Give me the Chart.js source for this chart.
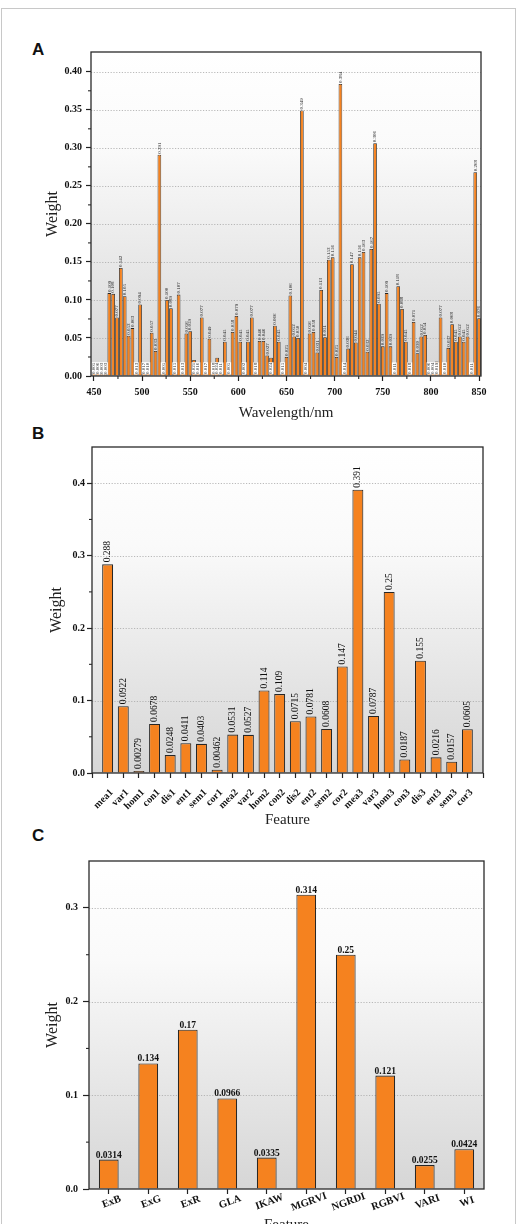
<!DOCTYPE html>
<html><head><meta charset="utf-8">
<script src="https://cdn.jsdelivr.net/npm/chart.js@4.4.1/dist/chart.umd.min.js"></script>
<style>
html,body{margin:0;padding:0;background:#fff;overflow:hidden;}
#page{position:relative;width:522px;height:1224px;overflow:hidden;}
#frame{position:absolute;left:1px;top:8px;width:515px;height:1240px;border:1px solid #c8c8c8;box-sizing:border-box;}
.panel{position:absolute;left:0;width:522px;}
.letter{position:absolute;left:32px;font:bold 17px "Liberation Sans",Arial,sans-serif;color:#111;line-height:18px;}
</style></head><body>
<div id="page">
<div id="frame"></div>
<div class="letter" style="top:41px">A</div>
<div class="letter" style="top:425px">B</div>
<div class="letter" style="top:827px">C</div>
<div class="panel" style="top:0;height:430px"><canvas id="cA"></canvas></div>
<div class="panel" style="top:425px;height:410px"><canvas id="cB"></canvas></div>
<div class="panel" style="top:835px;height:400px"><canvas id="cC"></canvas></div>
</div>
<script>
// ---------- DATA ----------
const wavelengthsNm = [450,454,458,462,466,470,474,478,482,486,490,494,498,502,506,510,514,518,522,526,530,534,538,542,546,550,554,558,562,566,570,574,578,582,586,590,594,598,602,606,610,614,618,622,626,630,634,638,642,646,650,654,658,662,666,670,674,678,682,686,690,694,698,702,706,710,714,718,722,726,730,734,738,742,746,750,754,758,762,766,770,774,778,782,786,790,794,798,802,806,810,814,818,822,826,830,834,838,842,846,850];
const weightsA = [0.005,0.006,0.003,0.003,0.109,0.108,0.077,0.142,0.105,0.053,
  0.063,0.013,0.094,0.017,0.010,0.057,0.033,0.291,0.005,0.100,
  0.089,0.015,0.107,0.013,0.056,0.059,0.021,0.016,0.077,0.017,
  0.049,0.018,0.024,0.011,0.045,0.005,0.058,0.079,0.045,0.002,
  0.045,0.077,0.018,0.046,0.046,0.027,0.024,0.066,0.045,0.015,
  0.025,0.106,0.052,0.050,0.349,0.004,0.056,0.058,0.031,0.113,
  0.051,0.153,0.156,0.025,0.384,0.014,0.036,0.147,0.044,0.156,
  0.163,0.032,0.167,0.306,0.095,0.039,0.109,0.039,0.011,0.118,
  0.088,0.045,0.018,0.071,0.030,0.052,0.054,0.006,0.004,0.019,
  0.077,0.010,0.037,0.068,0.045,0.052,0.045,0.052,0.011,0.268,
  0.076];
const featuresB = ['mea1','var1','hom1','con1','dis1','ent1','sem1','cor1','mea2','var2','hom2','con2','dis2','ent2','sem2','cor2','mea3','var3','hom3','con3','dis3','ent3','sem3','cor3'];
const weightsB = [0.288,0.0922,0.00279,0.0678,0.0248,0.0411,0.0403,0.00462,0.0531,0.0527,0.114,0.109,0.0715,0.0781,0.0608,0.147,0.391,0.0787,0.25,0.0187,0.155,0.0216,0.0157,0.0605];
const indicesC = ['ExB','ExG','ExR','GLA','IKAW','MGRVI','NGRDI','RGBVI','VARI','WI'];
const weightsC = [0.0314,0.134,0.17,0.0966,0.0335,0.314,0.25,0.121,0.0255,0.0424];

// ---------- STYLE ----------
const SERIF = '"Liberation Serif","Times New Roman",serif';
const BAR = '#F5821F';
const EDGE = '#262626';
Chart.defaults.font.family = SERIF;
Chart.defaults.color = '#111';
Chart.defaults.animation = false;

const deco = {
  id: 'deco',
  beforeDraw(chart) {
    const {ctx, chartArea: a} = chart;
    ctx.save();
    const g = ctx.createLinearGradient(0, a.top, 0, a.bottom);
    g.addColorStop(0, '#ffffff');
    g.addColorStop(0.3, '#fafafa');
    g.addColorStop(1, '#d6d6d6');
    ctx.fillStyle = g;
    ctx.fillRect(a.left, a.top, a.right - a.left, a.bottom - a.top);
    ctx.restore();
  },
  beforeDatasetsDraw(chart) {
    const {ctx, chartArea: a, scales: {y}} = chart;
    ctx.save();
    ctx.strokeStyle = '#a8a8a8'; ctx.lineWidth = 0.8; ctx.setLineDash([1.2, 1.6]);
    for (const t of y.ticks) {
      if (t.value <= 0) continue;
      const py = Math.round(y.getPixelForValue(t.value)) + 0.5;
      ctx.beginPath(); ctx.moveTo(a.left, py); ctx.lineTo(a.right, py); ctx.stroke();
    }
    ctx.restore();
  },
  afterDatasetsDraw(chart, args, opts) {
    const {ctx, chartArea: a, scales: {x, y}} = chart;
    const meta = chart.getDatasetMeta(0);
    const vals = chart.data.datasets[0].data;
    ctx.save();
    ctx.fillStyle = '#111';
    meta.data.forEach((el, i) => {
      const raw = vals[i];
      const v = (typeof raw === 'object') ? raw.y : raw;
      if (opts.mode === 'A') {
        const txt = v.toFixed(3);
        ctx.font = '5px ' + SERIF;
        const w = ctx.measureText(txt).width;
        ctx.save();
        if (v >= 0.025) {
          ctx.translate(el.x, el.y - 1);
          ctx.rotate(-Math.PI / 2);
          ctx.textAlign = 'left'; ctx.textBaseline = 'middle';
          ctx.fillStyle = '#222';
          ctx.fillText(txt, 0, 0);
        } else {
          ctx.translate(el.x, el.base - 1);
          ctx.rotate(-Math.PI / 2);
          ctx.fillStyle = '#ffffff';
          ctx.fillRect(0, -2.4, w + 1, 4.8);
          ctx.fillStyle = '#333';
          ctx.textAlign = 'left'; ctx.textBaseline = 'middle';
          ctx.fillText(txt, 0.5, 0);
        }
        ctx.restore();
      } else if (opts.mode === 'B') {
        const txt = String(v);
        ctx.save();
        ctx.font = '9.5px ' + SERIF;
        ctx.translate(el.x, el.y - 2);
        ctx.rotate(-Math.PI / 2);
        ctx.textAlign = 'left'; ctx.textBaseline = 'middle';
        ctx.fillText(txt, 0, 0);
        ctx.restore();
        // category label
        ctx.save();
        ctx.font = 'bold 10px ' + SERIF;
        ctx.translate(el.x + 4, a.bottom + 18);
        ctx.rotate(-Math.PI / 4);
        ctx.textAlign = 'right'; ctx.textBaseline = 'middle';
        ctx.fillText(featuresB[i], 0, 0);
        ctx.restore();
      } else {
        const txt = String(v);
        ctx.font = 'bold 9.5px ' + SERIF;
        ctx.textAlign = 'center'; ctx.textBaseline = 'alphabetic';
        ctx.fillText(txt, el.x, el.y - 2);
        // category label
        ctx.save();
        ctx.font = 'bold 10.5px ' + SERIF;
        ctx.translate(el.x + 1, a.bottom + 8);
        ctx.rotate(-20 * Math.PI / 180);
        ctx.textAlign = 'center'; ctx.textBaseline = 'top';
        ctx.fillText(chart.data.labels[i], 0, 0);
        ctx.restore();
      }
    });
    ctx.restore();
    // frame
    ctx.save();
    ctx.strokeStyle = '#2a2a2a'; ctx.lineWidth = 1.3; ctx.setLineDash([]);
    ctx.strokeRect(a.left, a.top, a.right - a.left, a.bottom - a.top);
    // minor ticks
    ctx.lineWidth = 1.1;
    const yt = y.ticks.map(t => t.value);
    for (let i = 0; i < yt.length - 1; i++) {
      const py = y.getPixelForValue((yt[i] + yt[i + 1]) / 2);
      ctx.beginPath(); ctx.moveTo(a.left, py); ctx.lineTo(a.left - 3, py); ctx.stroke();
    }
    if (opts.minorX) {
      const xt = x.ticks.map(t => t.value);
      for (let i = 0; i < xt.length - 1; i++) {
        const px = x.getPixelForValue((xt[i] + xt[i + 1]) / 2);
        ctx.beginPath(); ctx.moveTo(px, a.bottom); ctx.lineTo(px, a.bottom + 3); ctx.stroke();
      }
    }
    ctx.restore();
  }
};

function tickGrid(len) {
  return {display: true, drawOnChartArea: false, drawTicks: true, tickLength: len, tickColor: '#222', tickWidth: 1.2, offset: false};
}

// ---------- PANEL A ----------
new Chart(document.getElementById('cA'), {
  type: 'bar',
  data: {datasets: [{
    data: wavelengthsNm.map((w, i) => ({x: w, y: weightsA[i]})),
    backgroundColor: BAR, borderColor: EDGE, borderWidth: 0.8,
    barPercentage: 0.95, categoryPercentage: 1
  }]},
  options: {
    responsive: true, maintainAspectRatio: false, animation: false,
    layout: {padding: {top: 52, right: 41, bottom: 0, left: 0}},
    plugins: {legend: {display: false}, tooltip: {enabled: false}, deco: {mode: 'A', minorX: true}},
    scales: {
      x: {type: 'linear', min: 447, max: 852, offset: false, grid: tickGrid(5), border: {display: false},
        ticks: {stepSize: 50, includeBounds: false, padding: 5, autoSkip: false, maxRotation: 0, font: {size: 10, weight: 'bold'}, color: '#111'},
        title: {display: true, text: 'Wavelength/nm', font: {size: 15}, color: '#222', padding: {top: 0, bottom: 8}},
        afterFit(s) { s.height = 54; }},
      y: {min: 0, max: 0.426, grid: tickGrid(5), border: {display: false},
        ticks: {stepSize: 0.05, includeBounds: false, padding: 4, font: {size: 10, weight: 'bold'}, color: '#111', callback: v => v.toFixed(2)},
        title: {display: true, text: 'Weight', font: {size: 16}, color: '#222', padding: {top: 43, bottom: 0}},
        afterFit(s) { s.width = 91; }}
    }
  },
  plugins: [deco]
});

// ---------- PANEL B ----------
new Chart(document.getElementById('cB'), {
  type: 'bar',
  data: {datasets: [{
    data: featuresB.map((f, i) => ({x: i, y: weightsB[i]})),
    backgroundColor: BAR, borderColor: EDGE, borderWidth: 1.1,
    barPercentage: 0.7, categoryPercentage: 1
  }]},
  options: {
    responsive: true, maintainAspectRatio: false, animation: false,
    layout: {padding: {top: 22, right: 39, bottom: 0, left: 0}},
    plugins: {legend: {display: false}, tooltip: {enabled: false}, deco: {mode: 'B', minorX: false}},
    scales: {
      x: {type: 'linear', min: -1, max: 24, offset: false, grid: tickGrid(5), border: {display: false},
        ticks: {display: false, stepSize: 1, autoSkip: false},
        title: {display: true, text: 'Feature', font: {size: 15}, color: '#222', padding: {top: 0, bottom: 6}},
        afterFit(s) { s.height = 62; }},
      y: {min: 0, max: 0.45, grid: tickGrid(5), border: {display: false},
        ticks: {stepSize: 0.1, includeBounds: false, padding: 2, font: {size: 10, weight: 'bold'}, color: '#111', callback: v => v.toFixed(1)},
        title: {display: true, text: 'Weight', font: {size: 16}, color: '#222', padding: {top: 47, bottom: 0}},
        afterFit(s) { s.width = 92; }}
    }
  },
  plugins: [deco]
});

// ---------- PANEL C ----------
new Chart(document.getElementById('cC'), {
  type: 'bar',
  data: {labels: indicesC, datasets: [{
    data: weightsC,
    backgroundColor: BAR, borderColor: EDGE, borderWidth: 1.1,
    barPercentage: 0.5, categoryPercentage: 1
  }]},
  options: {
    responsive: true, maintainAspectRatio: false, animation: false,
    layout: {padding: {top: 26, right: 38, bottom: 0, left: 0}},
    plugins: {legend: {display: false}, tooltip: {enabled: false}, deco: {mode: 'C', minorX: false}},
    scales: {
      x: {offset: true, grid: tickGrid(5), border: {display: false},
        ticks: {display: false, autoSkip: false},
        title: {display: true, text: 'Feature', font: {size: 15}, color: '#222', padding: {top: 0, bottom: 1}},
        afterFit(s) { s.height = 46; }},
      y: {min: 0, max: 0.35, grid: tickGrid(6), border: {display: false},
        ticks: {stepSize: 0.1, includeBounds: false, padding: 5, font: {size: 10, weight: 'bold'}, color: '#111', callback: v => v.toFixed(1)},
        title: {display: true, text: 'Weight', font: {size: 16}, color: '#222', padding: {top: 43, bottom: 0}},
        afterFit(s) { s.width = 89; }}
    }
  },
  plugins: [deco]
});
</script>
</body></html>
